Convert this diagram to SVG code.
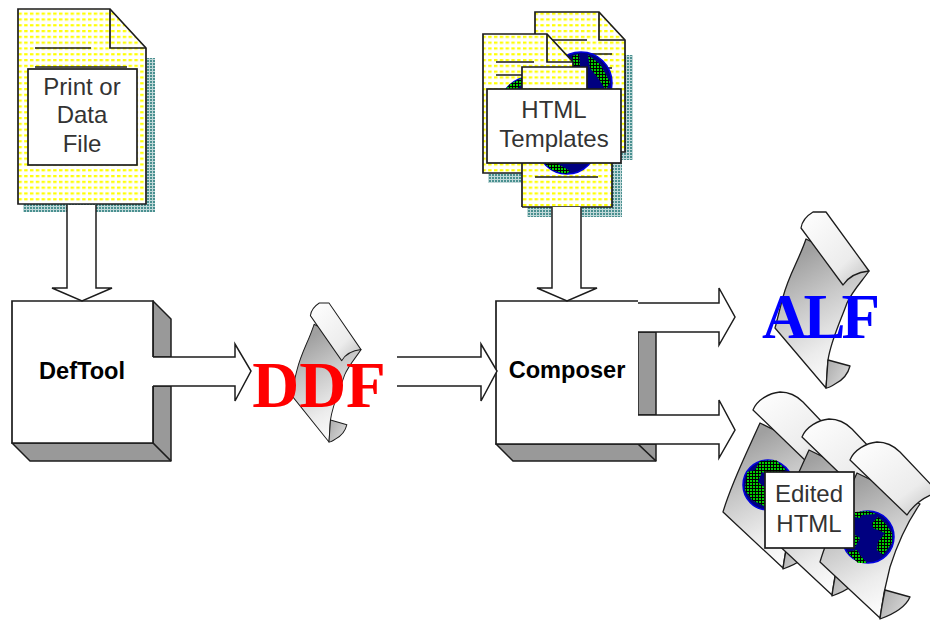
<svg xmlns="http://www.w3.org/2000/svg" xmlns:xlink="http://www.w3.org/1999/xlink" width="930" height="620" viewBox="0 0 930 620">
<style>
.ln{stroke:#1c1c1c;stroke-width:1.7;fill:none;stroke-linejoin:miter}
.doc{fill:url(#dots);stroke:#1c1c1c;stroke-width:1.7}
.sh{fill:url(#teal);stroke:none}
.box{fill:#fff;stroke:#1c1c1c;stroke-width:1.7}
.grey{fill:#999;stroke:#1c1c1c;stroke-width:1.5;stroke-linejoin:round}
.arrow{fill:#fff;stroke:#1c1c1c;stroke-width:1.5;stroke-linejoin:miter}
.lab{font-family:"Liberation Sans",Arial,sans-serif;font-size:24px;fill:#333;text-anchor:middle}
.bold{font-family:"Liberation Sans",Arial,sans-serif;font-size:23.6px;font-weight:bold;fill:#000;text-anchor:middle}
.big{font-family:"Liberation Serif","Times New Roman",serif;font-weight:bold;text-anchor:middle}
.globe{fill:#000080;stroke:#0000e0;stroke-width:1.5}
.land{fill:url(#green)}
.sc{stroke:#1c1c1c;stroke-width:1.3;stroke-linejoin:round}
</style>
<defs>
<pattern id="dots" width="5.8" height="5.8" patternUnits="userSpaceOnUse"><rect width="5.8" height="5.8" fill="#fff"/><rect x="1" y="1" width="3.4" height="2.2" fill="#ffff00"/></pattern>
<pattern id="teal" width="3" height="3" patternUnits="userSpaceOnUse"><rect width="3" height="3" fill="#c0d8d8"/><rect width="2" height="2" fill="#4a9090"/></pattern>
<pattern id="green" width="3" height="3" patternUnits="userSpaceOnUse"><rect width="3" height="3" fill="#000"/><rect width="2" height="2" fill="#00d000"/></pattern>
<linearGradient id="gBody" x1="0.3" y1="0.1" x2="0.62" y2="1"><stop offset="0" stop-color="#a0a0a0"/><stop offset="0.35" stop-color="#c8c8c8"/><stop offset="0.7" stop-color="#ececec"/><stop offset="1" stop-color="#ffffff"/></linearGradient>
<linearGradient id="gRoll" x1="0.1" y1="0.05" x2="0.9" y2="0.95"><stop offset="0" stop-color="#fdfdfd"/><stop offset="0.7" stop-color="#ececec"/><stop offset="1" stop-color="#c8c8c8"/></linearGradient>
<linearGradient id="gFoot" x1="0" y1="0" x2="1" y2="0.6"><stop offset="0" stop-color="#aaa"/><stop offset="1" stop-color="#d8d8d8"/></linearGradient>
<g id="scroll">
<path class="sc" d="M31 27C24 48 14 62 8 85C5 96 3 105 0 116L51 176C52 165 52 158 53 148C56 128 66 108 72 91C78 78 88 68 94 59Z" fill="url(#gBody)"/>
<path class="sc" d="M53 148L75 154C73 162 68 168 60 172C57 174 54 176 51 176Z" fill="url(#gFoot)"/>
<path class="sc" d="M26 16C27 9 33 3 38 0L51 0L94 59C84 60 74 64 68 73Z" fill="url(#gRoll)"/>
</g>
<g id="wide">
<path class="sc" d="M37 31C24 60 8 92 0 120L60 176C62 160 66 140 70 125C78 100 86 82 100 62Z" fill="url(#gBody)"/>
<path class="sc" d="M65 148L90 155C86 164 74 172 60 177C61 168 63 158 65 148Z" fill="url(#gFoot)"/>
<path class="sc" d="M30 18C34 8 46 1 57 0C65 0 72 2 80 10L118 50C106 54 94 62 87 73Z" fill="url(#gRoll)"/>
</g>
</defs>
<rect width="930" height="620" fill="#fff"/>

<g id="print-file">
<path class="sh" d="M146 58L155 58L155 212L23 212L23 204L146 204Z"/>
<path class="doc" d="M18 9L110 9L146 48L146 204L18 204Z"/>
<path class="ln" d="M110 9L110 48L146 48M35 48L91 48M35 67L127 67"/>
<rect class="box" x="28" y="69" width="109" height="96"/>
<text class="lab" x="82" y="95">Print or</text>
<text class="lab" x="82" y="123">Data</text>
<text class="lab" x="82" y="152">File</text>
</g>

<g id="html-templates">
<path class="sh" d="M625 55L633 55L633 160L620 160L620 152L625 152Z"/>
<path class="doc" d="M535 12L599 12L625 40L625 152L535 152Z"/>
<path class="ln" d="M599 12L599 40L625 40M550 40L587 40M572 54L612 54M603 68L612 68"/>
<circle class="globe" cx="581" cy="83" r="31"/>
<path class="land" d="M572 56L579 54L580 66L574 66ZM588 55L600 64L610 82L606 90L598 78L590 68Z"/>
<path class="sh" d="M488 173L522 173L522 183L488 183Z"/>
<path class="doc" d="M483 34L547 34L573 62L573 173L483 173Z"/>
<path class="ln" d="M547 34L547 62L573 62M496 62L534 62M496 75L522 75"/>
<circle class="globe" cx="530" cy="107" r="30"/>
<path class="land" d="M503 92L510 84L522 78L522 84L514 92L508 100L502 98Z"/>
<path class="sh" d="M612 163L622 163L622 217L527 217L527 207L612 207Z"/>
<path d="M522 67L587 67L587 89L522 89ZM522 163L612 163L612 207L522 207Z" fill="url(#dots)"/>
<circle class="globe" cx="567" cy="144" r="30"/>
<path class="land" d="M544 163L556 163L570 171L566 174L552 170Z"/>
<path class="ln" d="M522 207L522 67L587 67L587 89M612 163L612 207L522 207M535 177L598 177"/>
<rect class="box" x="487" y="89" width="134" height="74"/>
<text class="lab" x="554" y="118">HTML</text>
<text class="lab" x="554" y="147">Templates</text>
</g>

<g id="deftool">
<path class="grey" d="M153 301L171 319L171 357L153 357Z"/>
<path class="grey" d="M153 386L171 386L171 461L30 461L12 443L153 443Z"/>
<path class="box" d="M153 357L153 301L12 301L12 443L153 443L153 386"/>
<path d="M153 443L171 461" class="ln"/>
<text class="bold" x="82" y="379">DefTool</text>
</g>

<g id="ddf">
<use xlink:href="#scroll" href="#scroll" transform="translate(291 303) scale(0.745 0.79)"/>
<text class="big" x="319" y="407" font-size="65" fill="#ff0000">DDF</text>
</g>

<g id="composer">
<rect class="grey" x="638" y="332" width="18" height="83"/>
<path class="grey" d="M496 444L513 461L656 461L656 444Z"/>
<path class="ln" d="M638 444L656 461"/>
<path class="box" d="M638 301L496 301L496 444L638 444"/>
<text class="bold" x="567" y="378">Composer</text>
</g>

<g id="alf">
<use xlink:href="#scroll" href="#scroll" transform="translate(775 212)"/>
<text class="big" x="819" y="338" font-size="63" letter-spacing="-4" fill="#0000ff">ALF</text>
</g>

<g id="edited-html">
<use xlink:href="#wide" href="#wide" transform="translate(723 392)"/>
<circle class="globe" cx="768" cy="485" r="25"/>
<path class="land" d="M760 461L776 460L786 470L772 476L762 472L758 482L768 490L768 500L770 509L752 500L745 490L747 472L755 470Z"/>
<use xlink:href="#wide" href="#wide" transform="translate(772 419)"/>
<use xlink:href="#wide" href="#wide" transform="translate(820 442)"/>
<circle class="globe" cx="868" cy="537" r="26"/>
<path class="land" d="M855 512L868 511L876 514L862 515L860 518L855 517ZM872 523L878 517L885 523L892 533L892 543L883 555L877 550L878 542L885 533L873 528ZM855 535L860 538L855 547ZM847 552L857 550L860 555L867 563L858 563Z"/>
<rect class="box" x="765" y="472" width="89" height="76"/>
<text class="lab" x="809" y="502">Edited</text>
<text class="lab" x="809" y="532">HTML</text>
</g>

<g id="connectors">
<path class="arrow" d="M67 205L67 288L52 288L82 301L112 288L96 288L96 205"/>
<path class="arrow" d="M552 207L552 288L537 288L567 301L597 288L581 288L581 207"/>
<path class="arrow" d="M153 357L235 357L235 344L251 371L235 401L235 386L153 386"/>
<path class="arrow" d="M397 357L481 357L481 344L497 371L481 401L481 386L397 386"/>
<path class="arrow" d="M638 303L719 303L719 288L735 317L719 345L719 332L638 332"/>
<path class="arrow" d="M638 415L719 415L719 400L735 430L719 458L719 444L638 444"/>
</g>
</svg>
